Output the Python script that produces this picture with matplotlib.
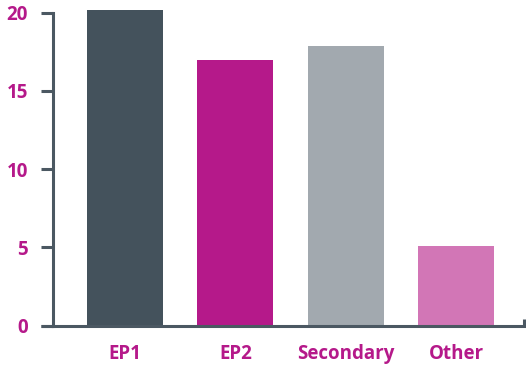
import matplotlib
matplotlib.use("Agg")
import matplotlib.pyplot as plt
from matplotlib.lines import Line2D

categories = ["EP1", "EP2", "Secondary", "Other"]
values = [20.15, 17.0, 17.9, 5.1]
bar_colors = ["#44525c", "#b5198a", "#a2a9af", "#d276b6"]
y_ticks = [0, 5, 10, 15, 20]

text_color = "#b5198a"
axis_color = "#4b5862"

plt.rcParams["font.family"] = ["Open Sans", "DejaVu Sans"]

fig = plt.figure(figsize=(5.26, 3.65), dpi=100)
ax = fig.add_axes([53 / 526, 1 - 325.5 / 365, (524 - 53) / 526, (325.5 - 12.7) / 365])

x = range(len(categories))
ax.bar(x, values, width=0.69, color=bar_colors, zorder=2, clip_on=False)

ax.set_xlim(-0.653, 3.617)
ax.set_ylim(0, 20)
ax.set_yticks(y_ticks)
ax.set_xticks(list(x))
ax.set_xticklabels(categories)

for side in ("top", "right"):
    ax.spines[side].set_visible(False)
for side in ("left", "bottom"):
    ax.spines[side].set_color(axis_color)
    ax.spines[side].set_linewidth(2.2)
ax.spines["left"].set_zorder(3)

ax.tick_params(axis="y", direction="out", length=9, width=2.2, color=axis_color,
               pad=9, labelsize=13.5, labelcolor=text_color)
ax.tick_params(axis="x", length=0, pad=13, labelsize=13.5, labelcolor=text_color)
for lbl in ax.get_xticklabels() + ax.get_yticklabels():
    lbl.set_fontweight("bold")

# short end mark at the right of the category axis
ax.add_line(Line2D([1.0, 1.0], [0, 0.02], transform=ax.transAxes, color=axis_color,
                   linewidth=2.2, clip_on=False, solid_capstyle="butt"))
# left end of the category axis extends past the value axis
ax.add_line(Line2D([-0.026, 0.0], [0, 0], transform=ax.transAxes, color=axis_color,
                   linewidth=2.2, clip_on=False, solid_capstyle="butt"))

fig.savefig("out.png", dpi=100)
